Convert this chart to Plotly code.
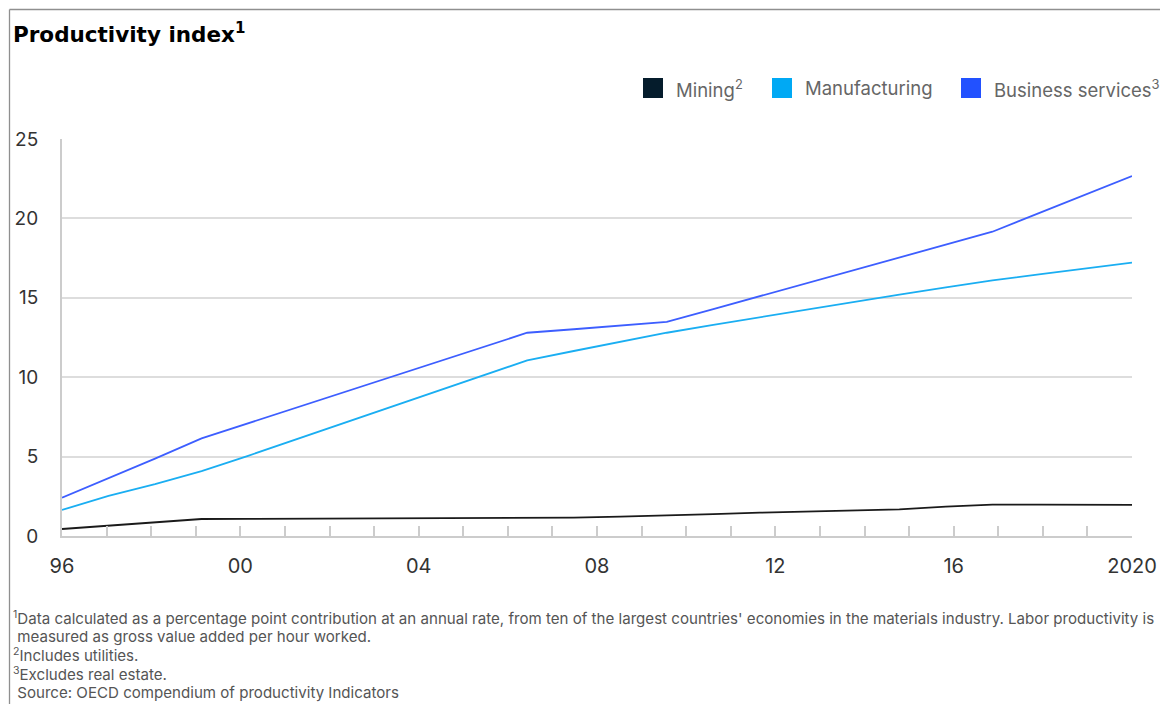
import numpy as np
import plotly.graph_objects as go

# ---------------- data ----------------
period_x = np.linspace(1996, 2020, 24)  # 24 observation points spread over 1996-2020

mining = [0.44, 0.65, 0.86, 1.07, 1.08, 1.09, 1.09, 1.10, 1.11, 1.12, 1.13, 1.16,
          1.22, 1.32, 1.38, 1.47, 1.53, 1.59, 1.68, 1.85, 1.98, 1.97, 1.97, 1.96]
manufacturing = [1.64, 2.52, 3.27, 4.09, 5.05, 6.05, 7.05, 8.05, 9.05, 10.05, 11.06, 11.65,
                 12.23, 12.80, 13.30, 13.78, 14.25, 14.72, 15.20, 15.65, 16.10, 16.47, 16.84, 17.21]
business = [2.41, 3.62, 4.87, 6.15, 7.10, 8.05, 9.00, 9.95, 10.90, 11.85, 12.80, 13.02,
            13.25, 13.48, 14.29, 15.10, 15.90, 16.72, 17.53, 18.34, 19.16, 20.33, 21.50, 22.67]

tick_years = list(range(1996, 2021))
tick_labels = {1996: "96", 2000: "00", 2004: "04", 2008: "08", 2012: "12", 2016: "16", 2020: "2020"}
y_ticks = [0, 5, 10, 15, 20, 25]

series_names = ["Mining<sup>2</sup>", "Manufacturing", "Business services<sup>3</sup>"]
series_colors = ["#051C2C", "#00A9F4", "#2251FF"]
line_colors = ["#1a1a1a", "#1AAEF2", "#3D5EFF"]

title_text = "<b>Productivity index<sup>1</sup></b>"
footnotes = [
    "<sup>1</sup>Data calculated as a percentage point contribution at an annual rate, from ten of the largest countries' economies in the materials industry. Labor productivity is",
    " measured as gross value added per hour worked.",
    "<sup>2</sup>Includes utilities.",
    "<sup>3</sup>Excludes real estate.",
    " Source: OECD compendium of productivity Indicators",
]

# ---------------- layout geometry ----------------
W, H = 1160, 704
L, R, T, B = 62, 1132, 139, 536
FONT = "Inter, Liberation Sans, Arial, sans-serif"
TITLE_FONT = "DejaVu Sans, Inter, sans-serif"


def px(xp):
    return (xp - L) / (R - L)


def py(yp):
    return (B - yp) / (B - T)


fig = go.Figure()
for vals, col in zip([mining, manufacturing, business], line_colors):
    fig.add_trace(go.Scatter(x=period_x, y=vals, mode="lines",
                             line=dict(color=col, width=1.8), showlegend=False,
                             hoverinfo="skip"))

shapes = []
annotations = []

# outer frame (cropped box)
frame_col = "#8f8f8f"
shapes.append(dict(type="line", xref="paper", yref="paper", x0=px(9.5), x1=px(1175),
                   y0=py(9.5), y1=py(9.5), line=dict(color=frame_col, width=1.3)))
shapes.append(dict(type="line", xref="paper", yref="paper", x0=px(9.5), x1=px(9.5),
                   y0=py(9.5), y1=py(710), line=dict(color=frame_col, width=1.3)))

# title
annotations.append(dict(text=title_text, xref="paper", yref="paper", x=px(11), y=py(33),
                        xanchor="left", yanchor="middle", showarrow=False,
                        font=dict(family=TITLE_FONT, size=21.5, color="#000000")))

# legend (manual)
legend_sq_x = [643, 772, 961]
legend_tx_x = [674, 803, 992]
for name, col, sx, tx in zip(series_names, series_colors, legend_sq_x, legend_tx_x):
    shapes.append(dict(type="rect", xref="paper", yref="paper", x0=px(sx), x1=px(sx + 20),
                       y0=py(98), y1=py(78), fillcolor=col, line=dict(width=0)))
    annotations.append(dict(text=name, xref="paper", yref="paper", x=px(tx), y=py(88),
                            xanchor="left", yanchor="middle", showarrow=False,
                            font=dict(family=FONT, size=18.5, color="#666666")))

# footnotes
foot_y = [618, 636, 655, 674, 692]
for txt, fy in zip(footnotes, foot_y):
    t = txt.replace(" ", "&nbsp;", 1) if txt.startswith(" ") else txt
    annotations.append(dict(text=t, xref="paper", yref="paper", x=px(11), y=py(fy),
                            xanchor="left", yanchor="middle", showarrow=False,
                            font=dict(family=FONT, size=15.1, color="#555555")))

fig.update_layout(
    width=W, height=H, autosize=False,
    margin=dict(l=L, r=W - R, t=T, b=H - B, pad=0, autoexpand=False),
    paper_bgcolor="white", plot_bgcolor="white",
    shapes=shapes, annotations=annotations,
    xaxis=dict(range=[1996, 2020], tickvals=tick_years,
               ticktext=[tick_labels.get(y, "") for y in tick_years],
               showgrid=False, zeroline=False, showline=True, linecolor="#cccccc", linewidth=2,
               ticks="inside", ticklen=10, tickwidth=1.5, tickcolor="#cccccc",
               tickfont=dict(family=FONT, size=20, color="#333333"),
               ticklabelstandoff=11, ticklabeloverflow="allow", automargin=False,
               fixedrange=True),
    yaxis=dict(range=[0, 25], tickvals=y_ticks, showgrid=True, gridcolor="#dddddd", gridwidth=1.5,
               zeroline=False, showline=True, linecolor="#cccccc", linewidth=2, ticks="",
               tickfont=dict(family=FONT, size=19, color="#333333"),
               ticklabelstandoff=18, automargin=False, fixedrange=True),
    showlegend=False,
)

fig.write_html("out.html")
